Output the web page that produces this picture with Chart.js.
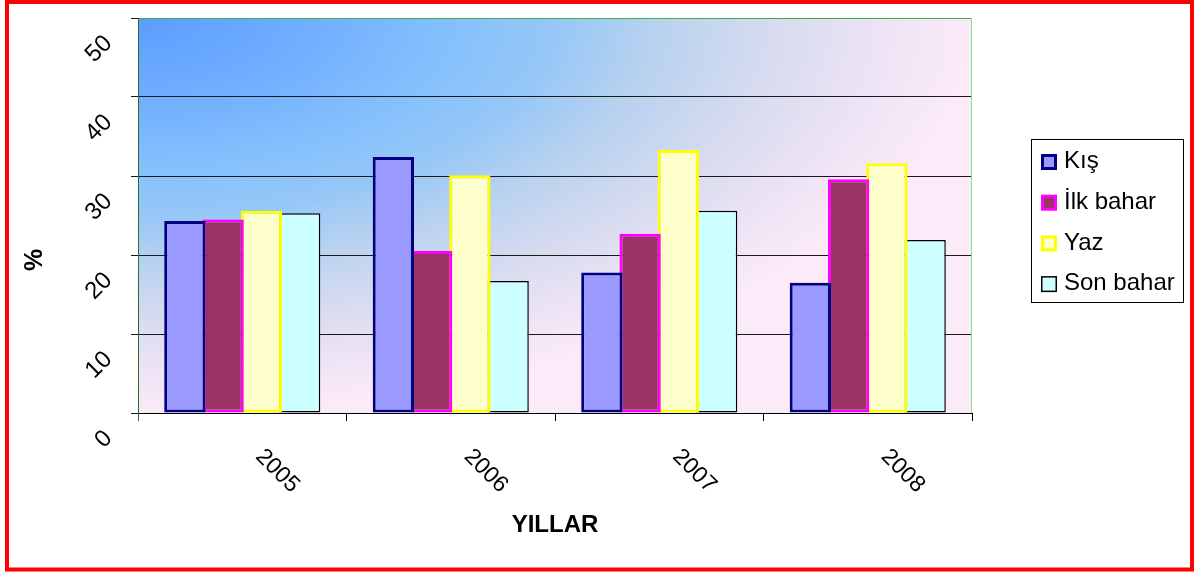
<!DOCTYPE html>
<html>
<head>
<meta charset="utf-8">
<script src="https://cdn.jsdelivr.net/npm/chart.js@4/dist/chart.umd.min.js"></script>
<style>
  html, body { margin: 0; padding: 0; background: #fff; }
  canvas { display: block; }
</style>
</head>
<body>
<canvas id="c" width="1195" height="573"></canvas>
<script>
// Seasonal shares (%) per year
const years = ['2005', '2006', '2007', '2008'];
const seasons = ['Kış', 'İlk bahar', 'Yaz', 'Son bahar'];
const kis = [24.3, 32.4, 17.8, 16.5];
const ilkBahar = [24.5, 20.5, 22.7, 29.6];
const yaz = [25.6, 30.1, 33.3, 31.6];
const sonBahar = [25.3, 16.7, 25.6, 21.9];
const yTicks = [0, 10, 20, 30, 40, 50];
const xTitle = 'YILLAR';
const yTitle = '%';

// Series styling
const fills = ['#9999ff', '#993366', '#ffffcc', '#ccffff'];
const edges = ['#000080', '#ff00ff', '#ffff00', '#000000'];
const edgeWidths = [3, 3, 3, 1.5];

const FONT = '"Liberation Sans", Arial, sans-serif';

const seriesValues = [kis, ilkBahar, yaz, sonBahar];
const datasets = seasons.map((name, i) => ({
  label: name,
  data: seriesValues[i],
  backgroundColor: fills[i],
  borderColor: edges[i],
  borderWidth: edgeWidths[i],
  borderSkipped: false,
  categoryPercentage: 0.734,
  barPercentage: 1.08
}));

// Page frame, plot-area gradient, rotated labels, titles and legend
const decorations = {
  id: 'decorations',
  beforeDraw(chart) {
    const { ctx, chartArea: a } = chart;
    ctx.save();
    ctx.fillStyle = '#ffffff';
    ctx.fillRect(0, 0, chart.width, chart.height);
    const w = a.right - a.left, h = a.bottom - a.top;
    ctx.translate(a.left, a.top);
    ctx.scale(w, h);
    const g = ctx.createRadialGradient(0, 0, 0, 0, 0, 1);
    g.addColorStop(0.00, '#5c9cff');
    g.addColorStop(0.20, '#70aeff');
    g.addColorStop(0.40, '#88c2fc');
    g.addColorStop(0.50, '#96c7f7');
    g.addColorStop(0.62, '#b8d2ef');
    g.addColorStop(0.78, '#dadcf0');
    g.addColorStop(0.90, '#eee4f5');
    g.addColorStop(1.00, '#fbeaf8');
    ctx.fillStyle = g;
    ctx.fillRect(0, 0, 1, 1);
    ctx.restore();
  },
  afterDraw(chart) {
    const { ctx, chartArea: a, scales } = chart;
    ctx.save();
    // plot-area outline
    ctx.lineWidth = 1;
    ctx.strokeStyle = '#3cb043';
    ctx.beginPath(); ctx.moveTo(a.left, a.top + 0.5); ctx.lineTo(a.right, a.top + 0.5); ctx.stroke();
    ctx.strokeStyle = '#80e880';
    ctx.beginPath(); ctx.moveTo(a.right - 0.5, a.top); ctx.lineTo(a.right - 0.5, a.bottom); ctx.stroke();
    ctx.strokeStyle = '#2a6e2a';
    ctx.beginPath(); ctx.moveTo(a.left + 0.5, a.top); ctx.lineTo(a.left + 0.5, a.bottom + 8); ctx.stroke();

    ctx.fillStyle = '#000';

    // value labels on the left, rotated to read upward
    ctx.font = '24px ' + FONT;
    ctx.textAlign = 'right';
    ctx.textBaseline = 'middle';
    yTicks.forEach(v => {
      const y = scales.y.getPixelForValue(v);
      ctx.save();
      ctx.translate(a.left - 29.6, y + 21.6);
      ctx.rotate(-Math.PI / 4);
      ctx.fillText(String(v), 0, 0);
      ctx.restore();
    });

    // category labels, rotated to read downward
    ctx.font = '23px ' + FONT;
    ctx.textAlign = 'left';
    ctx.textBaseline = 'middle';
    years.forEach((yr, i) => {
      const x = scales.x.getPixelForValue(i);
      ctx.save();
      ctx.translate(x + 17, a.bottom + 40);
      ctx.rotate(Math.PI / 4);
      ctx.fillText(yr, 0, 0);
      ctx.restore();
    });

    // axis titles
    ctx.font = 'bold 24px ' + FONT;
    ctx.textAlign = 'center';
    ctx.textBaseline = 'alphabetic';
    ctx.fillText(xTitle, (a.left + a.right) / 2, 532);
    ctx.save();
    ctx.translate(35, 260);
    ctx.rotate(-Math.PI / 2);
    ctx.font = 'bold 25px ' + FONT;
    ctx.textBaseline = 'middle';
    ctx.fillText(yTitle, 0, 0);
    ctx.restore();

    // legend
    const lx = 1031.5, ly = 139.5, step = 40.7;
    ctx.strokeStyle = '#000';
    ctx.lineWidth = 1;
    ctx.strokeRect(lx, ly, 152, 163);
    ctx.font = '24px ' + FONT;
    ctx.textAlign = 'left';
    ctx.textBaseline = 'alphabetic';
    chart.data.datasets.forEach((ds, i) => {
      const sy = 154 + i * step;
      const bw = ds.borderWidth;
      ctx.fillStyle = ds.borderColor;
      ctx.fillRect(1041, sy, 16, 16);
      ctx.fillStyle = ds.backgroundColor;
      ctx.fillRect(1041 + bw, sy + bw, 16 - 2 * bw, 16 - 2 * bw);
      ctx.fillStyle = '#000';
      ctx.fillText(ds.label, 1064, 168.3 + i * step);
    });

    // outer red frame
    ctx.strokeStyle = '#ff0000';
    ctx.lineWidth = 4;
    ctx.strokeRect(7, 2, 1185, 567.5);
    ctx.restore();
  }
};

new Chart(document.getElementById('c'), {
  type: 'bar',
  data: { labels: years, datasets },
  plugins: [decorations],
  options: {
    responsive: false,
    animation: false,
    events: [],
    layout: { padding: { left: 0, top: 18, right: 223, bottom: 0 } },
    plugins: { legend: { display: false }, tooltip: { enabled: false } },
    scales: {
      x: {
        grid: { offset: true, drawOnChartArea: false, drawTicks: true, tickLength: 8, color: '#000', lineWidth: 1 },
        border: { display: true, color: '#000', width: 1 },
        ticks: { display: false },
        afterFit(s) { s.height = 160; }
      },
      y: {
        min: yTicks[0],
        max: yTicks[yTicks.length - 1],
        grid: { color: '#1a1a1a', lineWidth: 1, tickLength: 7, drawTicks: true },
        border: { display: false },
        ticks: { display: false, stepSize: yTicks[1] - yTicks[0] },
        afterFit(s) { s.width = 138; }
      }
    }
  }
});
</script>
</body>
</html>
